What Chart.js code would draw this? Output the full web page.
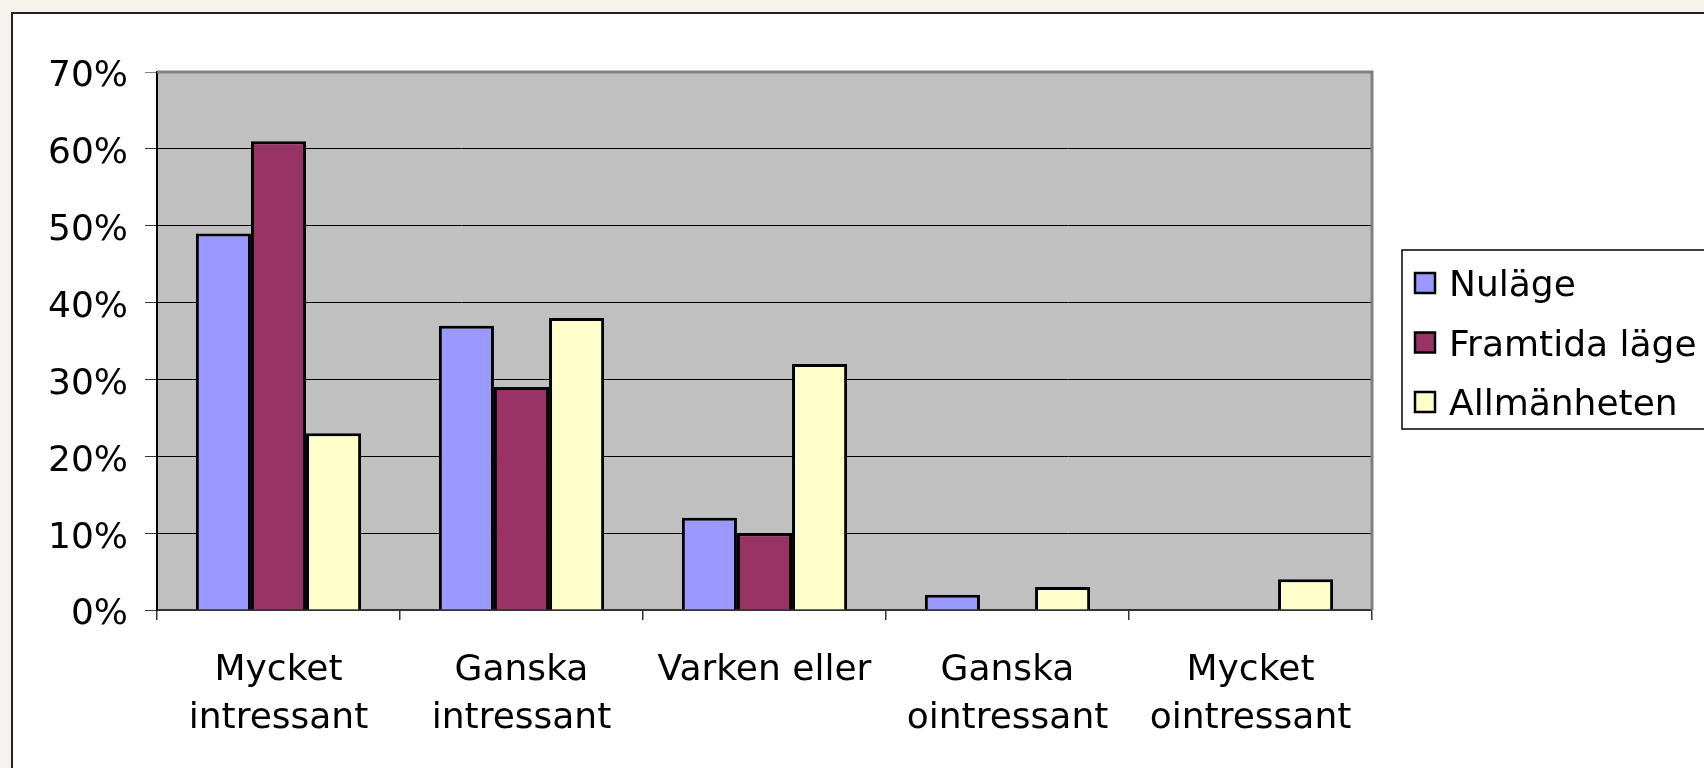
<!DOCTYPE html>
<html>
<head>
<meta charset="utf-8">
<title>Intresse</title>
<script src="https://cdn.jsdelivr.net/npm/chart.js@4.4.1/dist/chart.umd.min.js"></script>
<style>
  html, body { margin: 0; padding: 0; }
  body { width: 1704px; height: 768px; overflow: hidden; background: #f5f3eb; position: relative; }
  #frame { position: absolute; left: 11px; top: 12px; width: 1800px; height: 900px; background: #fff;
           border-left: 2px solid #222; border-top: 2px solid #222; }
  #wrap { position: absolute; left: 0; top: 0; width: 1704px; height: 768px; }
</style>
</head>
<body>
<div id="frame"></div>
<div id="wrap"><canvas id="chart"></canvas></div>
<script>
// data (percent)
const categories = [['Mycket', 'intressant'], ['Ganska', 'intressant'], 'Varken eller', ['Ganska', 'ointressant'], ['Mycket', 'ointressant']];
const seriesNames = ['Nuläge', 'Framtida läge', 'Allmänheten'];
const nulage = [49, 37, 12, 2, 0];
const framtida = [61, 29, 10, 0, 0];
const allmanheten = [23, 38, 32, 3, 4];
const yTicks = [0, 10, 20, 30, 40, 50, 60, 70];

const colors = ['#9999ff', '#993366', '#ffffcc'];
const FONT = 'DejaVu Sans';

// grey plot area + grey top/right frame
const plotArea = {
    id: 'plotArea',
    beforeDraw(chart) {
        const { ctx, chartArea: a } = chart;
        ctx.save();
        ctx.fillStyle = '#c0c0c0';
        ctx.fillRect(a.left, a.top, a.right - a.left, a.bottom - a.top);
        ctx.restore();
    },
    afterDraw(chart) {
        const { ctx, chartArea: a } = chart;
        ctx.save();
        ctx.strokeStyle = '#808080';
        ctx.lineWidth = 3;
        ctx.beginPath();
        ctx.moveTo(a.left, a.top);
        ctx.lineTo(a.right, a.top);
        ctx.lineTo(a.right, a.bottom);
        ctx.stroke();
        ctx.restore();
    }
};

// legend in a framed box to the right of the plot
const boxLegend = {
    id: 'boxLegend',
    afterDraw(chart) {
        const { ctx, chartArea: a } = chart;
        const left = a.right + 30, top = 250, bottom = 429;
        ctx.save();
        ctx.fillStyle = '#fff';
        ctx.fillRect(left, top, 400, bottom - top);
        ctx.strokeStyle = '#000';
        ctx.lineWidth = 1.5;
        ctx.strokeRect(left, top, 400, bottom - top);
        ctx.font = '36px "' + FONT + '"';
        ctx.textBaseline = 'middle';
        chart.data.datasets.forEach((ds, i) => {
            const cy = 283 + i * 59.5;
            ctx.fillStyle = ds.backgroundColor;
            ctx.fillRect(left + 13, cy - 10, 20, 20);
            ctx.lineWidth = 2.5;
            ctx.strokeRect(left + 13, cy - 10, 20, 20);
            ctx.fillStyle = '#000';
            ctx.fillText(ds.label, left + 47, cy + 4);
        });
        ctx.restore();
    }
};

const seriesData = [nulage, framtida, allmanheten];

new Chart(document.getElementById('chart'), {
    type: 'bar',
    data: {
        labels: categories,
        datasets: seriesNames.map((name, i) => ({
            label: name,
            data: seriesData[i],
            backgroundColor: colors[i],
            borderColor: '#000',
            borderWidth: 3,
            categoryPercentage: 0.68,
            barPercentage: 1.0
        }))
    },
    options: {
        responsive: true,
        maintainAspectRatio: false,
        animation: false,
        layout: { padding: { left: 0, top: 72, right: 332, bottom: 0 } },
        plugins: {
            legend: { display: false },
            tooltip: { enabled: false }
        },
        scales: {
            x: {
                afterFit: (s) => { s.height = 158; },
                grid: { drawOnChartArea: false, drawTicks: true, tickLength: 10, tickColor: '#333', lineWidth: 1.5 },
                border: { color: '#333', width: 2 },
                ticks: {
                    color: '#000', padding: 27, maxRotation: 0, autoSkip: false,
                    font: { family: FONT, size: 36, lineHeight: '48px' }
                }
            },
            y: {
                min: 0,
                max: 70,
                afterFit: (s) => { s.width = 157; },
                afterBuildTicks: (s) => { s.ticks = yTicks.map(v => ({ value: v })); },
                grid: {
                    color: (c) => c.tick && c.tick.value === 70 ? '#808080' : '#000',
                    tickColor: (c) => c.tick && c.tick.value === 70 ? '#808080' : '#333',
                    lineWidth: 1,
                    tickLength: 12
                },
                border: { color: '#000', width: 2 },
                ticks: {
                    color: '#000', padding: 17, labelOffset: 5,
                    font: { family: FONT, size: 36 },
                    callback: (v) => v + '%'
                }
            }
        }
    },
    plugins: [plotArea, boxLegend]
});
</script>
</body>
</html>
